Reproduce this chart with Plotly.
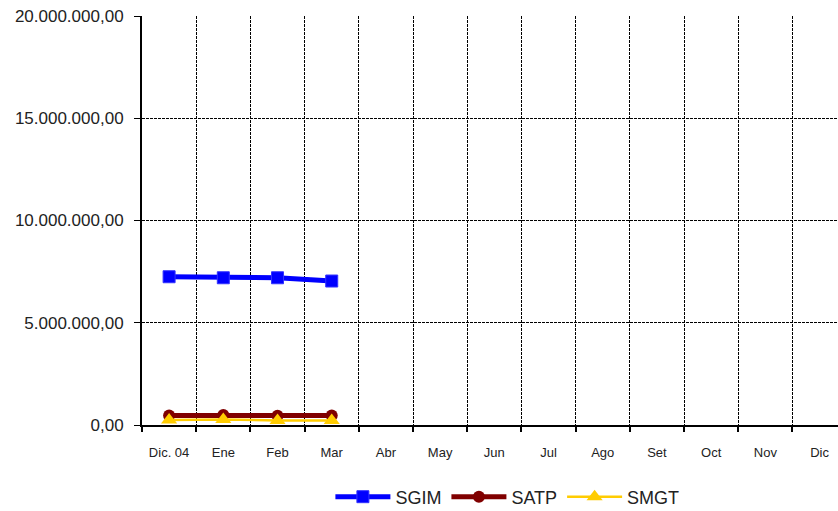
import plotly.graph_objects as go

categories = ["Dic. 04", "Ene", "Feb", "Mar", "Abr", "May", "Jun", "Jul", "Ago", "Set", "Oct", "Nov", "Dic"]
months_with_data = ["Dic. 04", "Ene", "Feb", "Mar"]
sgim = [7250000, 7200000, 7200000, 7040000]
satp = [470000, 490000, 450000, 470000]
smgt = [240000, 270000, 220000, 220000]
y_ticks = [0, 5000000, 10000000, 15000000, 20000000]

fig = go.Figure()
fig.add_trace(go.Scatter(x=months_with_data, y=sgim, name="SGIM", mode="lines+markers",
                         line=dict(color="#0000FF", width=5),
                         marker=dict(symbol="square", size=12, color="#0000FF",
                                     line=dict(color="#3333FF", width=1))))
fig.add_trace(go.Scatter(x=months_with_data, y=satp, name="SATP", mode="lines+markers",
                         line=dict(color="#800000", width=5),
                         marker=dict(symbol="circle", size=12, color="#800000")))
fig.add_trace(go.Scatter(x=months_with_data, y=smgt, name="SMGT", mode="lines+markers",
                         line=dict(color="#FFCC00", width=2.5),
                         marker=dict(symbol="triangle-up", size=14, color="#FFCC00")))

fig.update_layout(
    width=838, height=511,
    margin=dict(l=142, r=0, t=16, b=86, autoexpand=False),
    plot_bgcolor="white", paper_bgcolor="white",
    separators=",.",
    font=dict(family="Liberation Sans, Arial, sans-serif", color="#222222"),
    showlegend=True,
    legend=dict(orientation="h", x=0.525, xanchor="center", y=-0.176, yanchor="middle",
                font=dict(size=18, color="#222222"), itemwidth=55, tracegroupgap=0),
    xaxis=dict(type="category", categoryorder="array", categoryarray=categories,
               tickvals=categories, ticktext=categories,
               range=[-0.5, 12.34], tickson="boundaries",
               showgrid=True, gridcolor="black", gridwidth=1, griddash="3px,1px",
               showline=True, linecolor="black", linewidth=2,
               ticks="outside", ticklen=5, tickcolor="black", tickwidth=2,
               ticklabelstandoff=14,
               tickfont=dict(family="Liberation Sans, Arial, sans-serif", size=13, color="#222222"),
               zeroline=False),
    yaxis=dict(range=[0, 20000000], tickvals=y_ticks, tickformat=",.2f",
               showgrid=True, gridcolor="black", gridwidth=1, griddash="3px,1px",
               showline=True, linecolor="black", linewidth=2,
               ticks="outside", ticklen=6, tickcolor="black", tickwidth=1,
               ticklabelstandoff=7, ticklabeloverflow="allow",
               tickfont=dict(size=17, color="#222222"), zeroline=False),
)

fig.write_html("out.html", config={"displayModeBar": False},
               post_script="document.body.style.margin='0';document.body.style.overflow='hidden';")
